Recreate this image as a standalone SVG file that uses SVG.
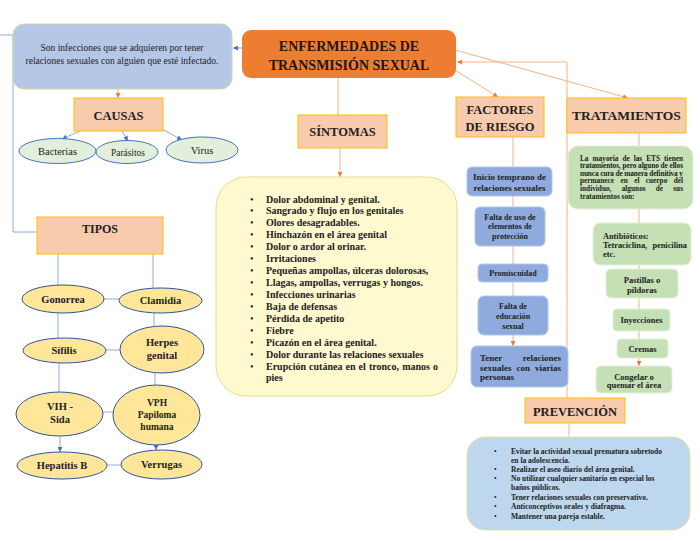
<svg xmlns="http://www.w3.org/2000/svg" width="700" height="541" viewBox="0 0 700 541">
<defs>
<marker id="ab" viewBox="0 0 6 6" markerWidth="5" markerHeight="5" refX="6" refY="3" orient="auto"><path d="M0,0 L6,3 L0,6 z" fill="#4472C4"/></marker>
<marker id="ao" viewBox="0 0 6 6" markerWidth="5" markerHeight="5" refX="6" refY="3" orient="auto"><path d="M0,0 L6,3 L0,6 z" fill="#ED7D31"/></marker>
<style>
text{font-family:"Liberation Serif","Times New Roman",serif;fill:#222}
.b{font-weight:bold}
.c{text-anchor:middle}
.e{text-anchor:end}
.lb{fill:none;stroke:#8FAADC;stroke-width:1}
.lo{fill:none;stroke:#F4B183;stroke-width:1}
.hd{fill:#F8CBAD;stroke:#FFC000;stroke-width:1}
.eg{fill:#E2EFDA;stroke:#4472C4;stroke-width:1}
.ey{fill:#FFE699;stroke:#2F5597;stroke-width:1}
.fb{fill:#8FAADC;stroke:#B4C7E7;stroke-width:1}
.tg{fill:#C5E0B4;stroke:#E2EFDA;stroke-width:1}
</style>
</defs>
<rect width="700" height="541" fill="#fff"/>

<g id="connectors">
<line class="lb" x1="242" y1="48" x2="233" y2="48" marker-end="url(#ab)"/>
<polyline class="lb" points="0,35 13,35 13,232 37,232"/>
<line class="lo" x1="118" y1="89" x2="118" y2="98" marker-end="url(#ao)"/>
<line class="lb" x1="80" y1="131" x2="62" y2="139" marker-end="url(#ab)"/>
<line class="lb" x1="122" y1="131" x2="128" y2="141" marker-end="url(#ab)"/>
<line class="lb" x1="162" y1="129" x2="182" y2="140" marker-end="url(#ab)"/>
<line class="lb" x1="58" y1="254" x2="58" y2="285"/>
<line class="lb" x1="153" y1="254" x2="153" y2="288"/>
<line class="lb" x1="104" y1="299" x2="119" y2="299"/>
<line class="lb" x1="58" y1="313" x2="58" y2="338"/>
<line class="lb" x1="154" y1="313" x2="154" y2="326"/>
<line class="lb" x1="106" y1="350" x2="120" y2="350"/>
<line class="lb" x1="59" y1="363" x2="59" y2="392"/>
<line class="lb" x1="155" y1="373" x2="155" y2="385"/>
<line class="lb" x1="102" y1="412" x2="114" y2="412"/>
<line class="lb" x1="60" y1="436" x2="60" y2="452" marker-end="url(#ab)"/>
<line class="lb" x1="156" y1="444" x2="156" y2="450" marker-end="url(#ab)"/>
<line class="lb" x1="107" y1="465" x2="121" y2="465"/>
<line class="lo" x1="338" y1="78" x2="338" y2="115"/>
<line class="lo" x1="340" y1="148" x2="340" y2="177" marker-end="url(#ao)"/>
<line class="lo" x1="455" y1="70" x2="498" y2="97" marker-end="url(#ao)"/>
<line class="lo" x1="455" y1="50" x2="628" y2="98" marker-end="url(#ao)"/>
<polyline class="lo" points="567,398 567,62 457,62" marker-end="url(#ao)"/>
<line class="lo" x1="513" y1="137" x2="513" y2="346" marker-end="url(#ao)"/>
<line class="lo" x1="639" y1="133" x2="639" y2="366" marker-end="url(#ao)"/>
<line class="lo" x1="569" y1="423" x2="569" y2="437"/>
</g>

<g id="title">
<rect x="242" y="30" width="214" height="48" rx="9" fill="#ED7D31"/>
<text class="b c" x="349" y="51" font-size="14" style="fill:#261505">ENFERMEDADES DE</text>
<text class="b c" x="349" y="70" font-size="14" style="fill:#261505">TRANSMISIÓN SEXUAL</text>
</g>

<g id="definicion">
<rect x="13" y="24" width="219" height="65" rx="11" fill="#B4C7E7" stroke="#D9D2A8"/>
<text class="c" x="122" y="51" font-size="9.5">Son infecciones que se adquieren por tener</text>
<text class="c" x="122" y="64" font-size="9.5">relaciones sexuales con alguien que esté infectado.</text>
</g>

<g id="causas">
<rect class="hd" x="74" y="98" width="89" height="33"/>
<text class="b c" x="118.5" y="120" font-size="12.5">CAUSAS</text>
</g>
<g id="bacterias"><ellipse class="eg" cx="57.5" cy="151" rx="38.5" ry="12.5"/><text class="c" x="57.5" y="155" font-size="10.5">Bacterias</text></g>
<g id="parasitos"><ellipse class="eg" cx="127" cy="152" rx="31" ry="11.5"/><text class="c" x="128" y="156" font-size="9.4">Parásitos</text></g>
<g id="virus"><ellipse class="eg" cx="202" cy="150" rx="36" ry="13"/><text class="c" x="202" y="154" font-size="10.5">Virus</text></g>

<g id="tipos">
<rect class="hd" x="37" y="217" width="126" height="37"/>
<text class="b c" x="100" y="233" font-size="12">TIPOS</text>
</g>
<g id="gonorrea"><ellipse class="ey" cx="63" cy="299" rx="41" ry="14"/><text class="b c" x="63" y="302.5" font-size="10.5">Gonorrea</text></g>
<g id="clamidia"><ellipse class="ey" cx="160.5" cy="300.5" rx="41.5" ry="12.5"/><text class="b c" x="160.5" y="304" font-size="10.5">Clamidia</text></g>
<g id="sifilis"><ellipse class="ey" cx="64.5" cy="350.5" rx="41.5" ry="12.5"/><text class="b c" x="64" y="354" font-size="10.5">Sífilis</text></g>
<g id="herpes"><ellipse class="ey" cx="162" cy="349.5" rx="42" ry="23.5"/><text class="b c" x="162" y="346" font-size="10.5">Herpes</text><text class="b c" x="162" y="359" font-size="10.5">genital</text></g>
<g id="vih"><ellipse class="ey" cx="59.5" cy="414" rx="43.5" ry="22"/><text class="b c" x="60" y="410" font-size="10.5">VIH -</text><text class="b c" x="60" y="423" font-size="10.5">Sida</text></g>
<g id="vph"><ellipse class="ey" cx="156.5" cy="415" rx="43.5" ry="30"/><text class="b c" x="157" y="406" font-size="9.5">VPH</text><text class="b c" x="157" y="418" font-size="9.5">Papiloma</text><text class="b c" x="157" y="430" font-size="9.5">humana</text></g>
<g id="hepatitis"><ellipse class="ey" cx="62" cy="465.5" rx="45" ry="13.5"/><text class="b c" x="62" y="469" font-size="10.5">Hepatitis B</text></g>
<g id="verrugas"><ellipse class="ey" cx="161.5" cy="464.5" rx="40.5" ry="14.5"/><text class="b c" x="161.5" y="468" font-size="10.5">Verrugas</text></g>

<g id="sintomas">
<rect class="hd" x="298" y="115" width="89" height="33"/>
<text class="b c" x="342.5" y="136" font-size="12.5">SÍNTOMAS</text>
</g>
<g id="lista-sintomas" font-size="10">
<rect x="216" y="177" width="241" height="219" rx="30" fill="#FEF9CF" stroke="#E8DC8E"/>
<text x="250" y="202.5">•</text><text class="b" x="266" y="202.5">Dolor abdominal y genital.</text>
<text x="250" y="214.4">•</text><text class="b" x="266" y="214.4">Sangrado y flujo en los genitales</text>
<text x="250" y="226.4">•</text><text class="b" x="266" y="226.4">Olores desagradables.</text>
<text x="250" y="238.3">•</text><text class="b" x="266" y="238.3">Hinchazón en el área genital</text>
<text x="250" y="250.2">•</text><text class="b" x="266" y="250.2">Dolor o ardor al orinar.</text>
<text x="250" y="262.2">•</text><text class="b" x="266" y="262.2">Irritaciones</text>
<text x="250" y="274.1">•</text><text class="b" x="266" y="274.1">Pequeñas ampollas, úlceras dolorosas,</text>
<text x="250" y="286">•</text><text class="b" x="266" y="286">Llagas, ampollas, verrugas y hongos.</text>
<text x="250" y="297.9">•</text><text class="b" x="266" y="297.9">Infecciones urinarias</text>
<text x="250" y="309.9">•</text><text class="b" x="266" y="309.9">Baja de defensas</text>
<text x="250" y="321.8">•</text><text class="b" x="266" y="321.8">Pérdida de apetito</text>
<text x="250" y="333.7">•</text><text class="b" x="266" y="333.7">Fiebre</text>
<text x="250" y="345.7">•</text><text class="b" x="266" y="345.7">Picazón en el área genital.</text>
<text x="250" y="357.6">•</text><text class="b" x="266" y="357.6">Dolor durante las relaciones sexuales</text>
<text x="250" y="369.5">•</text>
<text class="b" y="369.5"><tspan x="266">Erupción</tspan> <tspan x="309.1">cutánea</tspan> <tspan x="345.5">en</tspan> <tspan x="358.6">el</tspan> <tspan x="368.9">tronco,</tspan> <tspan x="402.2">manos</tspan></text>
<text class="b e" x="438" y="369.5">o</text>
<text class="b" x="266" y="380.5">pies</text>
</g>

<g id="factores">
<rect class="hd" x="456" y="97" width="88" height="40"/>
<text class="b c" x="500" y="114" font-size="12.5">FACTORES</text>
<text class="b c" x="500" y="131" font-size="12.5">DE RIESGO</text>
</g>
<g id="inicio"><rect class="fb" x="467" y="167" width="85" height="29" rx="5"/><text class="b c" x="509.5" y="180" font-size="9">Inicio temprano de</text><text class="b c" x="509.5" y="191" font-size="9">relaciones sexuales</text></g>
<g id="falta-uso"><rect class="fb" x="475" y="207" width="70" height="39" rx="5"/><text class="b c" x="510" y="219.5" font-size="8">Falta de uso de</text><text class="b c" x="510" y="229" font-size="8">elementos de</text><text class="b c" x="510" y="238.5" font-size="8">protección</text></g>
<g id="promiscuidad"><rect class="fb" x="478" y="264" width="70" height="18" rx="4"/><text class="b c" x="513" y="276" font-size="8">Promiscuidad</text></g>
<g id="falta-educacion"><rect class="fb" x="478" y="296" width="70" height="39" rx="6"/><text class="b c" x="513" y="308.8" font-size="8">Falta de</text><text class="b c" x="513" y="318.8" font-size="8">educación</text><text class="b c" x="513" y="328.8" font-size="8">sexual</text></g>
<g id="varias-personas" font-size="9"><rect class="fb" x="471" y="346" width="97" height="41" rx="6"/>
<text class="b" x="480" y="361">Tener</text><text class="b e" x="561" y="361">relaciones</text>
<text class="b" y="371"><tspan x="480">sexuales</tspan> <tspan x="516.5">con</tspan></text><text class="b e" x="561" y="371">viarias</text>
<text class="b" x="480" y="380">personas</text></g>

<g id="tratamientos">
<rect class="hd" x="567" y="98" width="119" height="35"/>
<text class="b c" x="626.5" y="120" font-size="13.5">TRATAMIENTOS</text>
</g>
<g id="trat-intro" font-size="7.3"><rect class="tg" x="568" y="146" width="125" height="63" rx="10"/>
<text class="b" y="160.6"><tspan x="580">La</tspan> <tspan x="592.5">mayoría</tspan> <tspan x="622.4">de</tspan> <tspan x="633.7">las</tspan> <tspan x="646.2">ETS</tspan></text><text class="b e" x="683" y="160.6">tienen</text>
<text class="b" x="580" y="168.2" textLength="103" lengthAdjust="spacing">tratamientos, pero alguno de ellos</text>
<text class="b" x="580" y="175.8" textLength="103" lengthAdjust="spacing">nunca cura de manera definitiva y</text>
<text class="b" y="183.4"><tspan x="580">permanece</tspan> <tspan x="620.5">en</tspan> <tspan x="634.2">el</tspan> <tspan x="645.8">cuerpo</tspan></text><text class="b e" x="683" y="183.4">del</text>
<text class="b" y="191"><tspan x="580">individuo,</tspan> <tspan x="621.7">algunos</tspan> <tspan x="655.8">de</tspan></text><text class="b e" x="683" y="191">sus</text>
<text class="b" x="580" y="198.6">tratamientos son:</text>
</g>
<g id="antibioticos" font-size="8.3"><rect class="tg" x="593" y="223" width="98" height="42" rx="7"/><text class="b" x="603" y="239">Antibióticos:</text><text class="b" x="603" y="248">Tetraciclina,</text><text class="b e" x="687" y="248">penicilina</text><text class="b" x="603" y="257">etc.</text></g>
<g id="pastillas"><rect class="tg" x="606" y="269" width="72" height="29" rx="5"/><text class="b c" x="642" y="282.5" font-size="8.5">Pastillas o</text><text class="b c" x="642" y="292.5" font-size="8.5">píldoras</text></g>
<g id="inyecciones"><rect class="tg" x="613" y="309" width="57" height="22" rx="4"/><text class="b c" x="641.5" y="323" font-size="8.5">Inyecciones</text></g>
<g id="cremas"><rect class="tg" x="617" y="339" width="51" height="19" rx="4"/><text class="b c" x="642.5" y="351.5" font-size="8.5">Cremas</text></g>
<g id="congelar"><rect class="tg" x="596" y="366" width="76" height="27" rx="5"/><text class="b c" x="634" y="379.5" font-size="8.5">Congelar o</text><text class="b c" x="634" y="388" font-size="8.5">quemar el área</text></g>

<g id="prevencion">
<rect class="hd" x="525" y="398" width="100" height="25"/>
<text class="b c" x="575" y="415.5" font-size="12.5">PREVENCIÓN</text>
</g>
<g id="lista-prevencion" font-size="7.5">
<rect x="467" y="437" width="223" height="93" rx="18" fill="#BDD7EE" stroke="#E8E0A0"/>
<text x="494" y="453.6">•</text><text class="b" x="511" y="453.6">Evitar la actividad sexual prematura sobretodo</text>
<text class="b" x="511" y="462.6">en la adolescencia.</text>
<text x="494" y="471.8">•</text><text class="b" x="511" y="471.8">Realizar el aseo diario del área genital.</text>
<text x="494" y="481.4">•</text><text class="b" x="511" y="481.4">No utilizar cualquier sanitario en especial los</text>
<text class="b" x="511" y="490.4">baños públicos.</text>
<text x="494" y="499.8">•</text><text class="b" x="511" y="499.8">Tener relaciones sexuales con preservativo.</text>
<text x="494" y="509.4">•</text><text class="b" x="511" y="509.4">Anticonceptivos orales y diafragma.</text>
<text x="494" y="519.4">•</text><text class="b" x="511" y="519.4">Mantener una pareja estable.</text>
</g>
</svg>
